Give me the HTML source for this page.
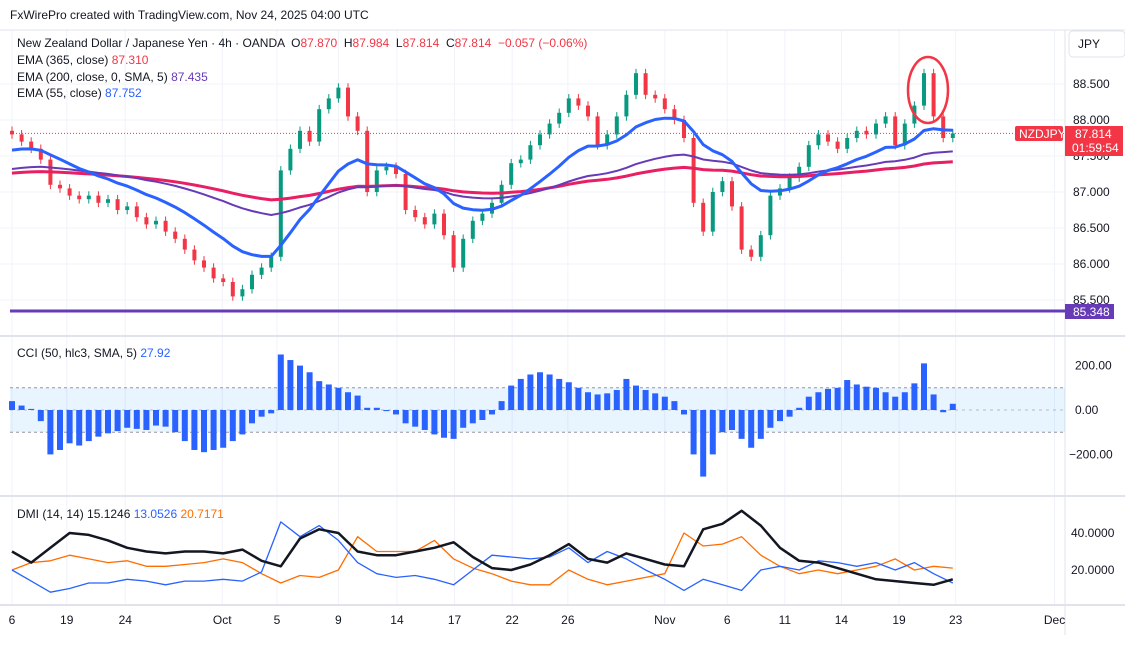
<!DOCTYPE html>
<html><head><meta charset="utf-8">
<style>
body{margin:0;background:#fff;font-family:"Liberation Sans",sans-serif;}
svg text{font-family:"Liberation Sans",sans-serif;}
</style></head>
<body>
<svg id="c" width="1125" height="645" viewBox="0 0 1125 645"></svg>
<script>
const closes=[87.80,87.70,87.60,87.45,87.10,87.05,86.95,86.90,86.95,86.85,86.90,86.75,86.80,86.65,86.55,86.60,86.45,86.35,86.20,86.05,85.95,85.80,85.75,85.55,85.65,85.85,85.95,86.10,87.30,87.60,87.85,87.70,88.15,88.30,88.45,88.05,87.85,87.00,87.30,87.35,87.25,86.75,86.65,86.55,86.70,86.40,85.95,86.35,86.60,86.70,86.85,87.10,87.40,87.45,87.65,87.80,87.95,88.10,88.30,88.20,88.05,87.65,87.80,88.05,88.35,88.65,88.35,88.30,88.15,88.00,87.75,86.85,86.45,87.00,87.15,86.80,86.20,86.10,86.40,86.95,87.05,87.20,87.35,87.65,87.80,87.70,87.60,87.75,87.85,87.80,87.95,88.05,87.65,87.95,88.20,88.65,88.05,87.75,87.814];
const cciValues=[40,20,5,-50,-200,-180,-150,-160,-140,-120,-105,-95,-80,-85,-90,-70,-75,-100,-140,-180,-190,-180,-170,-140,-110,-60,-30,-15,250,225,200,170,130,115,100,80,65,10,10,-5,-20,-60,-75,-90,-110,-125,-130,-80,-60,-45,-20,40,110,140,160,170,160,140,125,100,80,70,75,90,140,110,90,75,60,40,-20,-200,-300,-200,-100,-90,-130,-170,-130,-80,-50,-30,10,60,80,95,100,135,115,105,100,80,60,80,120,210,70,-10,28];
const adxValues=[30,24,32,40,39,36,32,30,29,30,30,29,31,25,22,37,42,40,30,28,28,30,32,35,27,21,20,23,28,34,26,24,29,26,23,22,42,45,52,44,32,25,24,21,18,15,14,13,12,15];
const plusDI=[20,14,8,10,13,13,15,14,12,14,14,15,14,19,46,38,44,36,24,18,16,17,15,12,20,28,27,26,27,32,24,30,26,20,15,9,15,12,9,20,22,20,25,24,22,24,20,24,18,13];
const minusDI=[20,24,25,28,26,24,25,22,22,23,24,26,24,18,13,17,16,20,38,30,30,30,36,26,21,18,14,12,12,20,15,12,14,16,18,40,33,34,38,28,22,18,20,18,20,22,26,20,22,21];
const priceTicks=[88.5,88.0,87.5,87.0,86.5,86.0,85.5];
const cciTicks=[200,0,-200];
const dmiTicks=[40,20];
const dateLabels=["6","19","24","Oct","5","9","14","17","22","26","Nov","6","11","14","19","23","Dec"];
const datePos=[0,5.7,11.8,21.9,27.6,34,40.1,46.1,52.1,57.9,68,74.5,80.5,86.4,92.4,98.3,108.6];
const supportLevel=85.348;

const NS="http://www.w3.org/2000/svg";
const svg=document.getElementById('c');
function el(t,a,p){const e=document.createElementNS(NS,t);for(const k in a)e.setAttribute(k,a[k]);(p||svg).appendChild(e);return e;}
const xi=i=>12+i*9.6;
const xd=i=>12+i*19.2;
const yP=p=>120+(88-p)*72;
const yC=v=>410-v*0.222;
const yD=v=>570-(v-20)*1.85;
const R=1065;

for(const d of datePos){const g=el('line',{x1:xi(d),x2:xi(d),y1:30,y2:605,stroke:'#f0f3fa'});}
for(const p of priceTicks){const g=el('line',{x1:0,x2:R,y1:yP(p),y2:yP(p),stroke:'#f0f3fa'});}
[336,496,605].forEach(y=>{const s=el('line',{x1:0,x2:1125,y1:y,y2:y,stroke:'#e0e3eb','stroke-width':2});});
const ax=el('line',{x1:R,x2:R,y1:30,y2:635,stroke:'#e0e3eb'});
const tb=el('line',{x1:0,x2:1125,y1:30,y2:30,stroke:'#e0e3eb'});

let t=el('text',{x:10,y:19,'font-size':12,fill:'#131722'});t.textContent='FxWirePro created with TradingView.com, Nov 24, 2025 04:00 UTC';

function ema(seed,a){const r=[];let v=seed;for(const c of closes){v=v+a*(c-v);r.push(v);}return r;}
const ema55=ema(87.55,0.13),ema200=ema(87.30,0.04),ema365=ema(87.25,0.022);
function line(vals,fx,fy,col,w,name){const d=vals.map((v,i)=>(i?'L':'M')+fx(i).toFixed(1)+' '+fy(v).toFixed(1)).join('');const p=el('path',{d,fill:'none',stroke:col,'stroke-width':w,'stroke-linejoin':'round'});return p;}

closes.forEach((c,i)=>{const o=i?closes[i-1]:c+0.05;const up=c>=o;const col=up?'#089981':'#f23645';const hi=Math.max(o,c)+0.06,lo=Math.min(o,c)-0.06;
const w=el('line',{x1:xi(i),x2:xi(i),y1:yP(hi),y2:yP(lo),stroke:col,'stroke-width':1});
const b=el('rect',{x:xi(i)-2,y:Math.min(yP(o),yP(c)),width:4,height:Math.max(1,Math.abs(yP(o)-yP(c))),fill:col});});
line(ema365,xi,yP,'#e91e63',3,'ema-365-line');
line(ema200,xi,yP,'#673ab7',2,'ema-200-line');
line(ema55,xi,yP,'#2962ff',3,'ema-55-line');

const sl=el('line',{x1:10,x2:R,y1:yP(supportLevel),y2:yP(supportLevel),stroke:'#673ab7','stroke-width':3});
const last=closes[closes.length-1];
const dl=el('line',{x1:10,x2:R,y1:yP(last),y2:yP(last),stroke:'#f23645','stroke-dasharray':'1 2','stroke-width':1});
const ci=el('ellipse',{cx:928,cy:90,rx:20,ry:33,fill:'none',stroke:'#f23645','stroke-width':2.5});

function txt(x,y,s,col,name,size){const e=el('text',{x,y,'font-size':size||12,fill:col});e.textContent=s;return e;}
const lg=el('text',{x:17,y:47,'font-size':12,fill:'#131722'});
lg.innerHTML='New Zealand Dollar / Japanese Yen · 4h · OANDA  O<tspan fill="#f23645">87.870</tspan>  H<tspan fill="#f23645">87.984</tspan>  L<tspan fill="#f23645">87.814</tspan>  C<tspan fill="#f23645">87.814  −0.057 (−0.06%)</tspan>';
lg.style.whiteSpace='pre';
const l1=el('text',{x:17,y:64,'font-size':12,fill:'#131722'});l1.innerHTML='EMA (365, close) <tspan fill="#f23645">87.310</tspan>';
const l2=el('text',{x:17,y:81,'font-size':12,fill:'#131722'});l2.innerHTML='EMA (200, close, 0, SMA, 5) <tspan fill="#673ab7">87.435</tspan>';
const l3=el('text',{x:17,y:97,'font-size':12,fill:'#131722'});l3.innerHTML='EMA (55, close) <tspan fill="#2962ff">87.752</tspan>';

const jb=el('rect',{x:1069,y:31,width:56,height:26,rx:4,fill:'#fff',stroke:'#e0e3eb'});
txt(1078,48,'JPY','#131722','currency-label');
priceTicks.forEach(p=>txt(1073,yP(p)+4,p.toFixed(3),'#131722','price-tick'));
let r=el('rect',{x:1015,y:126,width:48,height:15,rx:2,fill:'#f23645'});
txt(1019,138,'NZDJPY','#fff','symbol-tag-text');
r=el('rect',{x:1065,y:126,width:58,height:30,fill:'#f23645'});
txt(1075,138,last.toFixed(3),'#fff','last-price-text');
txt(1072,152,'01:59:54','#fff','countdown-text');
r=el('rect',{x:1065,y:304,width:49,height:15,fill:'#673ab7'});
txt(1073,316,supportLevel.toFixed(3),'#fff','support-tag-text');

r=el('rect',{x:10,y:yC(100),width:R-10,height:yC(-100)-yC(100),fill:'#2196f3','fill-opacity':0.1});
[100,-100].forEach(v=>{const l=el('line',{x1:10,x2:R,y1:yC(v),y2:yC(v),stroke:'#9598a1','stroke-dasharray':'3 3'});});
const zl=el('line',{x1:10,x2:R,y1:yC(0),y2:yC(0),stroke:'#9598a1','stroke-dasharray':'3 4','stroke-opacity':0.6});
cciValues.forEach((v,i)=>{const b=el('rect',{x:xi(i)-3,y:Math.min(yC(0),yC(v)),width:6,height:Math.abs(yC(v)-yC(0)),fill:'#2962ff'});});
const cl=el('text',{x:17,y:357,'font-size':12,fill:'#131722'});cl.innerHTML='CCI (50, hlc3, SMA, 5) <tspan fill="#2962ff">27.92</tspan>';
cciTicks.forEach(v=>txt(v<0?1069:1075,yC(v)+4,(v<0?'−':'')+Math.abs(v).toFixed(2),'#131722','cci-tick'));

line(minusDI,xd,yD,'#ff6d00',1.3,'minus-di-line');
line(plusDI,xd,yD,'#2962ff',1.3,'plus-di-line');
line(adxValues,xd,yD,'#131722',2.5,'adx-line');
const dl2=el('text',{x:17,y:518,'font-size':12,fill:'#131722'});dl2.innerHTML='DMI (14, 14) 15.1246 <tspan fill="#2962ff">13.0526</tspan> <tspan fill="#ff6d00">20.7171</tspan>';
dmiTicks.forEach(v=>txt(1071,yD(v)+4,v.toFixed(4),'#131722','dmi-tick'));

dateLabels.forEach((s,i)=>{const e=txt(xi(datePos[i]),624,s,'#131722','date-tick');e.setAttribute('text-anchor','middle');});
</script>
</body></html>
